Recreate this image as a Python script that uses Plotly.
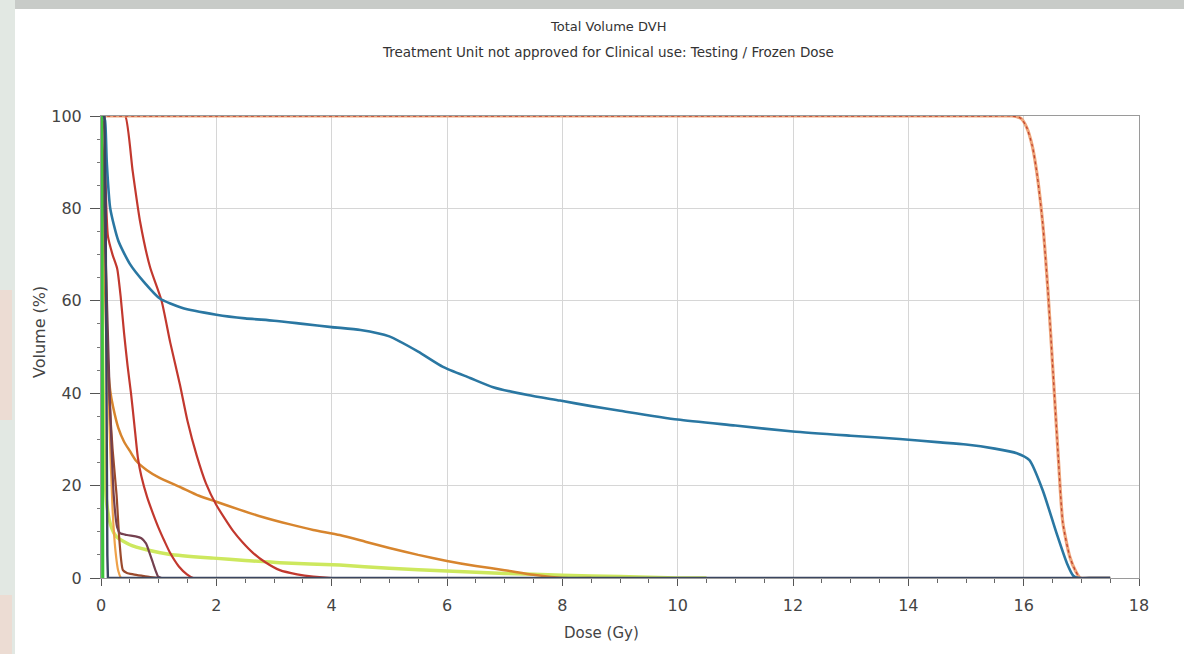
import plotly.graph_objects as go

# ---------------- data ----------------
x_ticks = [0, 2, 4, 6, 8, 10, 12, 14, 16, 18]
y_ticks = [0, 20, 40, 60, 80, 100]

target_x = [0, 2, 6, 10, 14, 15.5, 15.8, 15.95, 16.05, 16.15, 16.23, 16.33, 16.42, 16.51, 16.6,
            16.68, 16.8, 16.9, 16.98, 17.2, 17.5]
target_y = [100, 100, 100, 100, 100, 100, 100, 99.5, 97.6, 93.5, 87.6, 76.8, 62.3, 44.4, 26.2,
            11.9, 4.6, 1.5, 0, 0, 0]

blue_x = [0, 0.04, 0.07, 0.1, 0.16, 0.3, 0.5, 0.75, 1.02, 1.4, 2.0, 2.5, 3.0, 3.5, 4.0, 4.5,
          5.0, 5.5, 5.93, 6.4, 6.8, 7.4, 7.96, 8.5, 9.0, 10.0, 11.0, 12.0, 13.0, 13.85, 14.5,
          15.0, 15.5, 15.88, 16.1, 16.33, 16.57, 16.75, 16.86, 16.95, 17.2, 17.5]
blue_y = [100, 100, 99, 90, 80, 73, 68, 64, 60.5, 58.5, 57, 56.2, 55.7, 55, 54.3, 53.7,
          52.3, 49, 45.7, 43.3, 41.3, 39.6, 38.4, 37.2, 36.2, 34.3, 33, 31.7, 30.8, 30.1, 29.4,
          28.9, 28, 27, 25.5, 19, 9.7, 3.2, 0.5, 0, 0, 0]

redA_x = [0, 0.2, 0.35, 0.42, 0.55, 0.68, 0.85, 1.05, 1.2, 1.37, 1.5, 1.66, 1.82, 2.0, 2.15,
          2.29, 2.45, 2.64, 2.85, 3.1, 3.4, 3.68, 4.0, 4.3]
redA_y = [100, 100, 100, 100, 88, 77, 67.3, 60, 51, 41.8, 34, 26.5, 20.5, 15.8, 12.8,
          10.2, 7.8, 5.4, 3.4, 1.7, 0.8, 0.3, 0, 0]

redB_x = [0, 0.05, 0.08, 0.12, 0.2, 0.28, 0.34, 0.4, 0.46, 0.52, 0.58, 0.64, 0.7, 0.8, 0.9, 1.0,
          1.1, 1.2, 1.35, 1.49, 1.6, 1.8]
redB_y = [100, 98, 85, 74, 70, 67, 61, 53, 46, 40, 33, 26, 22, 17.5, 14, 10.8,
          8, 5.4, 2.5, 0.8, 0, 0]

orange_x = [0, 0.05, 0.1, 0.16, 0.21, 0.3, 0.4, 0.5, 0.6, 0.79, 1.0, 1.37, 1.7, 2.0, 2.4,
            2.8, 3.28, 3.68, 4.14, 4.6, 5.0, 5.5, 6.0, 6.5, 7.0, 7.5, 8.0, 8.5]
orange_y = [100, 75, 50, 40.5, 37, 32.5, 29.5, 27.5, 25.5, 23.4, 21.8, 19.7, 17.8, 16.5, 14.8,
            13.2, 11.6, 10.4, 9.3, 7.8, 6.5, 5, 3.7, 2.6, 1.7, 0.7, 0, 0]

lime_x = [0, 0.02, 0.05, 0.1, 0.18, 0.27, 0.5, 0.79, 1.2, 1.95, 2.5, 3.1, 4.14, 5.0, 6.0,
          7.0, 8.0, 9.0, 10.0, 10.5]
lime_y = [100, 60, 30, 16, 11, 8.9, 7.2, 6.1, 5.1, 4.3, 3.8, 3.3, 2.8, 2.1, 1.5,
          1.0, 0.6, 0.3, 0, 0]

maroon_x = [0, 0.08, 0.15, 0.22, 0.28, 0.33, 0.45, 0.6, 0.7, 0.78, 0.84, 0.9, 0.95, 0.99, 1.05, 1.2]
maroon_y = [100, 70, 40, 18, 11, 9.7, 9.3, 9.0, 8.6, 7.5, 5.5, 3.3, 1.5, 0.3, 0, 0]

sienna_x = [0, 0.06, 0.1, 0.15, 0.2, 0.27, 0.32, 0.38, 0.45, 0.56, 0.7, 0.85, 1.0, 1.2]
sienna_y = [100, 85, 55, 38, 28, 18, 8, 1.7, 1.1, 0.8, 0.5, 0.2, 0, 0]

lorange_x = [0, 0.05, 0.1, 0.15, 0.2, 0.25, 0.3, 0.35, 0.5]
lorange_y = [100, 80, 55, 32, 15, 6, 1.5, 0, 0]

navy_x = [0, 0.06, 0.08, 0.09, 0.1, 0.11, 0.12, 17.5]
navy_y = [100, 100, 80, 50, 20, 5, 0, 0]

green_x = [0, 0.01, 0.02, 0.025, 0.03]
green_y = [100, 99, 60, 10, 0]

# ---------------- figure ----------------
fig = go.Figure()

def add(x, y, color, width, dash="solid", smooth=True):
    line = dict(color=color, width=width, dash=dash)
    if smooth:
        line.update(shape="spline", smoothing=0.6)
    fig.add_trace(go.Scatter(x=x, y=y, mode="lines", line=line,
                             hoverinfo="skip", showlegend=False))

add(lime_x, lime_y, "#cde85e", 3.5)
add(orange_x, orange_y, "#d7852e", 2.5)
add(lorange_x, lorange_y, "#efa24a", 2.2)
add(sienna_x, sienna_y, "#9b4a2c", 2.2)
add(maroon_x, maroon_y, "#74404f", 2.2)
add(redB_x, redB_y, "#c2382e", 2.2)
add(redA_x, redA_y, "#c2382e", 2.2)
add(target_x, target_y, "#eea47a", 3.2)
add(target_x, target_y, "#c0452f", 1.3, "dot")
add(blue_x, blue_y, "#2a77a2", 2.6)
add(navy_x, navy_y, "#3a4660", 2.4, smooth=False)
add(green_x, green_y, "#3ec43e", 3.2, smooth=False)

# layout geometry (pixels of the reference)
L, R, T, B = 101, 1139, 116, 578
W, H = 1184, 654

def px(xp):
    return (xp - L) / (R - L)

def py(yp):
    return (B - yp) / (B - T)

font = "DejaVu Sans"

fig.update_layout(
    width=W, height=H,
    margin=dict(l=L, r=W - R, t=T, b=H - B, pad=0),
    paper_bgcolor="white", plot_bgcolor="white",
    font=dict(family=font, color="#444444"),
    xaxis=dict(range=[0, 18], tickvals=x_ticks, ticktext=[str(v) for v in x_ticks],
               showgrid=True, gridcolor="#d6d6d6", gridwidth=1,
               showline=True, linecolor="#9a9a9a", linewidth=1, mirror=True,
               ticks="outside", ticklen=7, tickcolor="#555555", ticklabelstandoff=6,
               minor=dict(dtick=0.5, ticks="outside", ticklen=4, tickcolor="#666666", showgrid=False),
               tickfont=dict(size=16, color="#444444", family=font), zeroline=False),
    yaxis=dict(range=[0, 100], tickvals=y_ticks, ticktext=[str(v) for v in y_ticks],
               showgrid=True, gridcolor="#d6d6d6", gridwidth=1,
               showline=True, linecolor="#9a9a9a", linewidth=1, mirror=True,
               ticks="outside", ticklen=10, tickcolor="#555555", ticklabelstandoff=5,
               minor=dict(dtick=5, ticks="outside", ticklen=3, tickcolor="#777777", showgrid=False),
               tickfont=dict(size=16, color="#444444", family=font), zeroline=False),
)

fig.add_annotation(text="Total Volume DVH", x=px(608), y=py(27), xref="paper", yref="paper",
                   showarrow=False, xanchor="center", yanchor="middle",
                   font=dict(size=13, color="#333333", family=font))
fig.add_annotation(text="Treatment Unit not approved for Clinical use: Testing / Frozen Dose",
                   x=px(608), y=py(52), xref="paper", yref="paper",
                   showarrow=False, xanchor="center", yanchor="middle",
                   font=dict(size=13.5, color="#333333", family=font))
fig.add_annotation(text="Dose (Gy)", x=px(601), y=py(633), xref="paper", yref="paper",
                   showarrow=False, xanchor="center", yanchor="middle",
                   font=dict(size=15, color="#444444", family=font))
fig.add_annotation(text="Volume (%)", x=px(39), y=py(332), xref="paper", yref="paper",
                   showarrow=False, xanchor="center", yanchor="middle", textangle=-90,
                   font=dict(size=16, color="#444444", family=font))

# decorative frame of the screenshot
fig.add_shape(type="rect", xref="paper", yref="paper", x0=px(0), x1=px(15), y0=py(654), y1=py(0),
              fillcolor="#e2e8e3", line=dict(width=0), layer="below")
fig.add_shape(type="rect", xref="paper", yref="paper", x0=px(0), x1=px(12), y0=py(420), y1=py(290),
              fillcolor="#ecdcd3", line=dict(width=0), layer="below")
fig.add_shape(type="rect", xref="paper", yref="paper", x0=px(0), x1=px(12), y0=py(654), y1=py(595),
              fillcolor="#ecdcd3", line=dict(width=0), layer="below")
fig.add_shape(type="rect", xref="paper", yref="paper", x0=px(15), x1=px(1184), y0=py(9), y1=py(0),
              fillcolor="#c8cbc8", line=dict(width=0), layer="below")

fig.write_html("out.html")
